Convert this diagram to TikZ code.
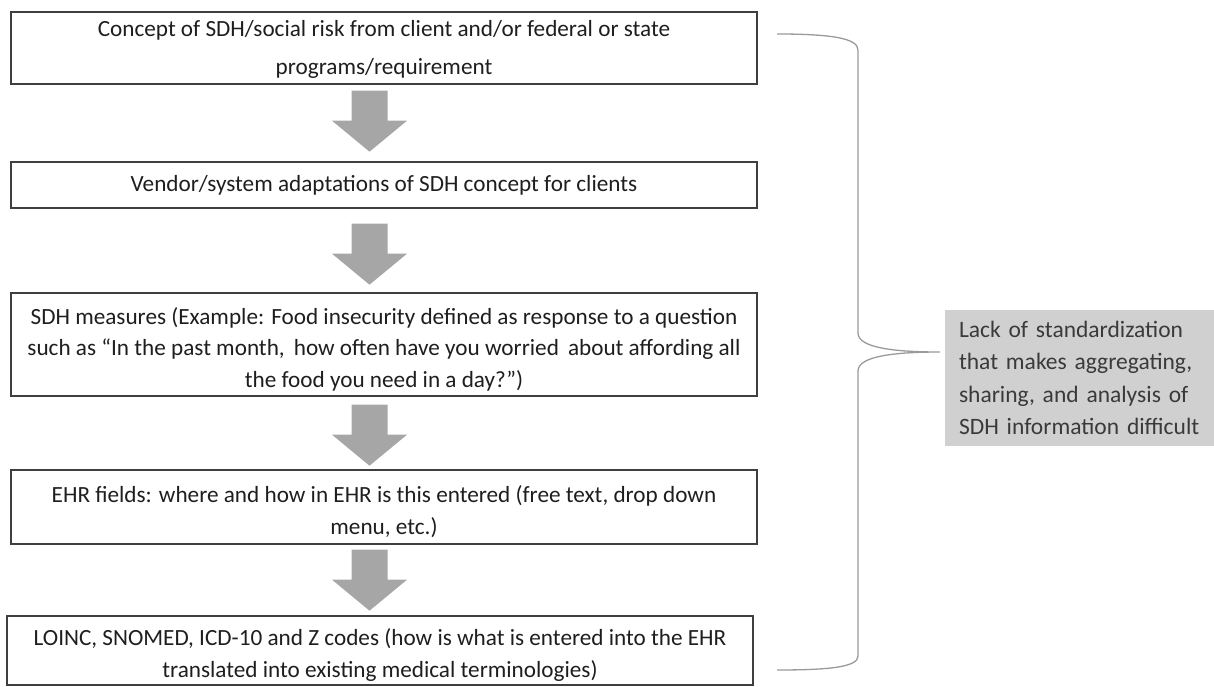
\documentclass[tikz,border=0pt]{standalone}
\usepackage{fontspec}
\setmainfont{Carlito}
\usetikzlibrary{calc}
\definecolor{arrowgray}{HTML}{A6A6A6}
\definecolor{boxline}{HTML}{3F3F3F}
\definecolor{bracegray}{HTML}{9A9A9A}
\definecolor{notefill}{HTML}{D0D0D0}
\definecolor{notetext}{HTML}{3A3A3A}
\definecolor{boxtext}{HTML}{1E1E1E}
\tikzset{
  flowbox/.style={draw=boxline, line width=1.4pt, minimum width=746pt, inner sep=0pt,
    align=center, text=boxtext, font=\fontsize{23.2}{31.5}\selectfont},
  notebox/.style={fill=notefill, minimum width=269pt, minimum height=136pt, inner xsep=14pt,
    inner ysep=0pt, text width=241pt, align=left, text=notetext, font=\fontsize{23.5}{32.5}\selectfont},
  bracepath/.style={draw=bracegray, line width=1.3pt},
  blockarr/.pic={\fill[arrowgray] (-18,0) -- (18,0) -- (18,30) -- (37.5,30) -- (0,61) -- (-37.5,30) -- (-18,30) -- cycle;}
}
\begin{document}
\begin{tikzpicture}[x=1pt, y=-1pt]
\useasboundingbox (0,0) rectangle (1214,687);
% flow boxes
\node[flowbox, minimum height=72pt, font=\fontsize{23.2}{38}\selectfont] (b1) at (384,48)
  {\rule{0pt}{19pt}Concept of SDH/social risk from client and/or federal or state\\programs/requirement};
\node[flowbox, minimum height=46pt] (b2) at (384,185)
  {Vendor/system adaptations of SDH concept for clients};
\node[flowbox, minimum height=103pt] (b3) at (384,344.5)
  {\rule{0pt}{26pt}SDH measures (Example: Food insecurity defined as response to a question\\such as “In the past month,\, how often have you worried\, about affording all\\the food you need in a day?”)};
\node[flowbox, minimum height=74pt] (b4) at (384,507)
  {\rule{0pt}{26pt}EHR fields: where and how in EHR is this entered (free text, drop down\\menu, etc.)};
\node[flowbox, minimum height=69pt] (b5) at (380,650.5)
  {\rule{0pt}{26pt}LOINC, SNOMED, ICD-10 and Z codes (how is what is entered into the EHR\\translated into existing medical terminologies)};
% block arrows between boxes
\coordinate (a1) at ($(b1.south)+(-14.5,6)$);
\coordinate (a2) at ($(b2.south)+(-14.5,15)$);
\coordinate (a3) at ($(b3.south)+(-14.5,8)$);
\coordinate (a4) at ($(b4.south)+(-14.5,5)$);
\pic at (a1) {blockarr};
\pic at (a2) {blockarr};
\pic at (a3) {blockarr};
\pic at (a4) {blockarr};
% note box
\node[notebox] (g) at (1079.5,378)
  {Lack of standardization\\that makes aggregating,\\sharing, and analysis of\\SDH information difficult};
% brace
\coordinate (btop) at (777,34);
\coordinate (tip) at (940,352);
\coordinate (bbot) at (777,670);
\draw[bracepath] (btop) .. controls (830,34) and (858,38) .. (858,50)
  -- (858,333) .. controls (858,348) and (895,352) .. (tip)
  .. controls (895,352) and (858,356) .. (858,371)
  -- (858,656) .. controls (858,667) and (830,670) .. (bbot);
\end{tikzpicture}
\end{document}
